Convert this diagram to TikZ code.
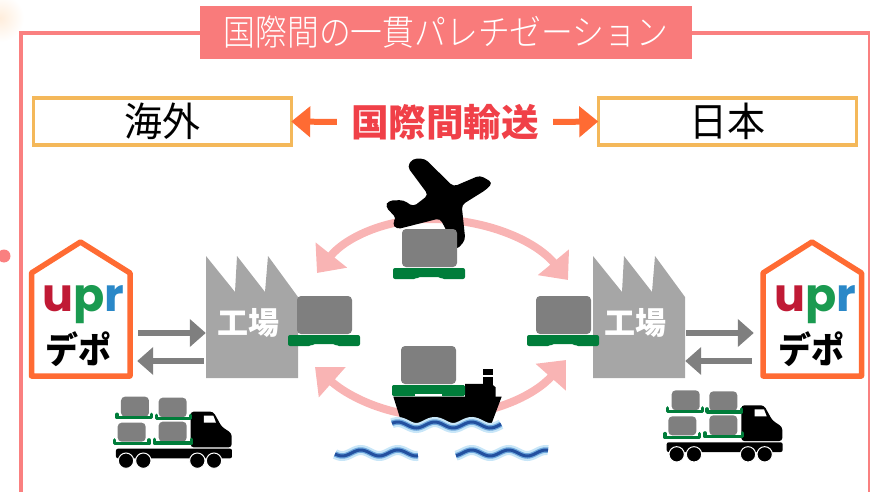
\documentclass[tikz,border=0pt]{standalone}
\usepackage{fontspec}
\usepackage{graphicx}
\usetikzlibrary{arrows.meta,calc}
\newfontfamily\cjk{Noto Sans CJK JP}
\newfontfamily\cjklight{Noto Sans CJK JP Light}
\newfontfamily\logofont{Poppins}
\definecolor{framepink}{HTML}{FA8080}
\definecolor{titlepink}{HTML}{F97B7B}
\definecolor{boxgold}{HTML}{F4B85A}
\definecolor{hot}{HTML}{FF6B33}
\definecolor{redtext}{HTML}{F04048}
\definecolor{softpink}{HTML}{F9B4B4}
\definecolor{arrowgray}{HTML}{7F7F7F}
\definecolor{facgray}{HTML}{A6A6A6}
\definecolor{cargogray}{HTML}{7F7F7F}
\definecolor{palgreen}{HTML}{007D3A}
\definecolor{logored}{HTML}{C01A35}
\definecolor{logogreen}{HTML}{1A9A50}
\definecolor{logoblue}{HTML}{2A88C8}
\definecolor{wavehalo}{HTML}{C8E6F8}
\definecolor{wavemid}{HTML}{6FA8DC}
\definecolor{wavecore}{HTML}{23509F}
\tikzset{
  fsz/.style={font=\cjk\fontsize{#1}{#1}\selectfont},
  framelines/.style={draw=framepink,line width=4pt},
  regionbox/.style={draw=boxgold,line width=3.5pt,fill=white,minimum width=258pt,minimum height=47pt,inner sep=0pt,fsz=38},
  orangearrow/.style={draw=hot,line width=6pt,-{Triangle[length=19pt,width=30pt]}},
  grayarrow/.style={draw=arrowgray,line width=6pt,-{Triangle[length=16pt,width=27pt]}},
  pinkarrow/.style={draw=softpink,line width=8pt,-{Triangle[length=23pt,width=39pt]}},
  house/.style={draw=hot,line width=5.5pt,fill=white,line join=round},
  factory/.style={fill=facgray},
  cargo/.style={fill=cargogray,rounded corners=4pt},
  pallet/.style={fill=palgreen,rounded corners=2pt},
  palletline/.style={draw=palgreen,line width=3.6pt,line join=round,line cap=round},
  solidblack/.style={fill=black},
  logotext/.style={inner sep=0pt,font=\logofont\bfseries\fontsize{46}{46}\selectfont},
  depotlabel/.style={inner sep=0pt,font=\cjk\bfseries\fontsize{33}{33}\selectfont},
  faclabel/.style={text=white,inner sep=0pt,font=\cjk\bfseries\fontsize{31}{31}\selectfont},
}
\newcommand{\factoryshape}[1]{%
  \fill[factory,shift={(#1,0)}] (206,378) -- (206,256) -- (235,292) -- (237,256) -- (265,292) -- (268,256) -- (298,297) -- (298,378) -- cycle;}
\newcommand{\housepath}[1]{%
  \draw[house,shift={(#1,0)}] (31.5,376) -- (31.5,273) -- (80.5,242) -- (130,273) -- (130,376) -- cycle;}
\newcommand{\cargounit}[2]{%
  \fill[cargo] (#1,#2) rectangle ++(55,38);
  \fill[pallet] (#1-9,#2+39) -- ++(72,0) -- ++(0,11) -- ++(-23,0) -- ++(-2,-2) -- ++(-22,0) -- ++(-2,2) -- ++(-23,0) -- cycle;}
\newcommand{\truckshape}[2]{%
  \begin{scope}[shift={(#1,#2)},scale=1/3]
    \fill[solidblack,rounded corners=2pt] (348,686) rectangle (696,715);
    \fill[solidblack,rounded corners=3pt] (572,575) -- (640,575) -- (665,620) -- (695,640) -- (695,682) -- (572,682) -- cycle;
    \fill[white] (612,587) -- (640,587) -- (648,608) -- (612,608) -- cycle;
    \foreach \wx in {378,430,592,642} {\fill[solidblack,draw=white,line width=1pt] (\wx,722) circle (23);}
    \fill[cargo] (363,530) rectangle (447,590);
    \fill[cargo] (476,533) rectangle (560,592);
    \fill[cargo] (353,608) rectangle (437,665);
    \fill[cargo] (476,605) rectangle (560,665);
    \draw[palletline] (351,583) -- (351,593) -- (455,593) -- (455,583);
    \draw[palletline] (469,586) -- (469,595) -- (572,595) -- (572,586);
    \draw[palletline] (343,660) -- (343,671) -- (447,671) -- (447,660);
    \draw[palletline] (463,658) -- (463,669) -- (575,669) -- (575,658);
  \end{scope}}
\newcommand{\wavepath}[3]{%
  \draw[draw=wavehalo,line width=10pt] plot[domain=#1:#2,samples=50,smooth] (\x,{#3+3*sin(\x*9.73)});
  \draw[draw=wavemid,line width=5.5pt] plot[domain=#1:#2,samples=50,smooth] (\x,{#3+3*sin(\x*9.73)});
  \draw[draw=wavecore,line width=3pt] plot[domain=#1:#2,samples=50,smooth] (\x,{#3+3*sin(\x*9.73)});}
\begin{document}
\begin{tikzpicture}[x=1pt,y=-1pt]
\useasboundingbox (0,0) rectangle (870,492);
% background tint and dot
\shade[inner color=orange!14,outer color=white] (0,18) circle (24);
\fill[framepink] (4,256) circle (6.5);
% frame
\draw[framelines] (20.5,492) -- (20.5,33) -- (870,33) -- (870,492);
% title
\node[fill=titlepink,text=white,minimum width=492pt,minimum height=53pt,inner sep=0pt,font=\cjklight\fontsize{31.8}{32}\selectfont] (title) at (446,32.5) {\scalebox{1}[1.12]{国際間の一貫パレチゼーション}};
% header row
\node[regionbox] (boxL) at (162.5,121.5) {\scalebox{1}[1.05]{海外}};
\node[regionbox] (boxR) at (727.5,121.5) {\scalebox{1}[1.05]{日本}};
\node[text=redtext,minimum width=186pt,inner sep=0pt,font=\cjk\bfseries\fontsize{37.6}{38}\selectfont] (trans) at (445,122) {国際間輸送};
\draw[orangearrow] ($(trans.west)+(-14,0)$) -- ($(boxL.east)+(-2,0)$);
\draw[orangearrow] ($(trans.east)+(14,0)$) -- ($(boxR.west)+(1.5,0)$);
% pink loop arrows
\coordinate (arcTop) at (430,219);
\coordinate (arcBot) at (430,416);
\coordinate (tipTL) at (317,273);
\coordinate (tipTR) at (568,280);
\coordinate (tipBL) at (315,367);
\coordinate (tipBR) at (566,360);
\draw[pinkarrow] (arcTop) .. controls (385,219) and (345,238) .. (tipTL);
\draw[pinkarrow] (arcTop) .. controls (485,219) and (535,240) .. (tipTR);
\draw[pinkarrow] (arcBot) .. controls (390,416) and (350,398) .. (tipBL);
\draw[pinkarrow] (arcBot) .. controls (490,418) and (535,395) .. (tipBR);
% factories
\factoryshape{0}
\factoryshape{387}
\node[inner sep=0pt,minimum width=92pt,minimum height=122pt] (facL) at (252,317) {};
\node[inner sep=0pt,minimum width=92pt,minimum height=122pt] (facR) at (639,317) {};
\node[faclabel] (facLtext) at (248.5,323) {工場};
\node[faclabel] (facRtext) at (635.5,323) {工場};
% depots
\housepath{0}
\housepath{731.5}
\node[inner sep=0pt,minimum width=103pt,minimum height=140pt] (depotL) at (80.5,310) {};
\node[inner sep=0pt,minimum width=103pt,minimum height=140pt] (depotR) at (812,310) {};
\node[logotext] (uprL) at (83,305) {\textcolor{logored}{u}\textcolor{logogreen}{p}\textcolor{logoblue}{r}};
\node[logotext] (uprR) at (815,305) {\textcolor{logored}{u}\textcolor{logogreen}{p}\textcolor{logoblue}{r}};
\node[depotlabel] (depotLtext) at (78.5,349) {\scalebox{1}[1.1]{デポ}};
\node[depotlabel] (depotRtext) at (811,349) {\scalebox{1}[1.1]{デポ}};
% gray connectors
\draw[grayarrow] ($(depotL.east)+(6,23)$) -- ($(facL.west)+(0,16)$);
\draw[grayarrow] ($(facL.west)+(-2,44)$) -- ($(depotL.east)+(5,51)$);
\draw[grayarrow] ($(facR.east)+(1,16)$) -- ($(depotR.west)+(-6.5,23)$);
\draw[grayarrow] ($(depotR.west)+(-8.5,51)$) -- ($(facR.east)+(0,44)$);
% airplane
\begin{scope}[shift={(300,150)},scale=1/3]
\fill[solidblack,rounded corners=4pt] (578,98) -- (540,76) -- (460,110) -- (375,26) -- (338,26) -- (322,50) -- (385,135) -- (340,170) -- (310,150) -- (265,152) -- (256,170) -- (290,205) -- (276,220) -- (290,238) -- (420,205) -- (470,300) -- (496,270) -- (485,165) -- (560,118) -- cycle;
\end{scope}
% cargo units
\cargounit{402}{229}
\cargounit{297}{296}
\cargounit{536}{296}
% ship
\begin{scope}[shift={(300,150)},scale=1/3]
\fill[solidblack] (495,702) -- (575,702) -- (587,712) -- (587,742) -- (495,742) -- cycle;
\fill[solidblack] (550,682) rectangle (578,705);
\fill[solidblack] (548,658) rectangle (578,675);
\fill[solidblack] (280,740) -- (605,740) -- (575,820) -- (305,820) -- cycle;
\end{scope}
\cargounit{401}{346}
\fill[palgreen,rounded corners=1.5pt] (392,385) rectangle (465,396);
\fill[white] (415,394) rectangle (442,396);
\wavepath{392}{501}{425}
\wavepath{335}{418}{453}
\wavepath{456}{548}{453}
% trucks
\truckshape{0}{220}
\truckshape{550.67}{213.67}
\end{tikzpicture}
\end{document}
